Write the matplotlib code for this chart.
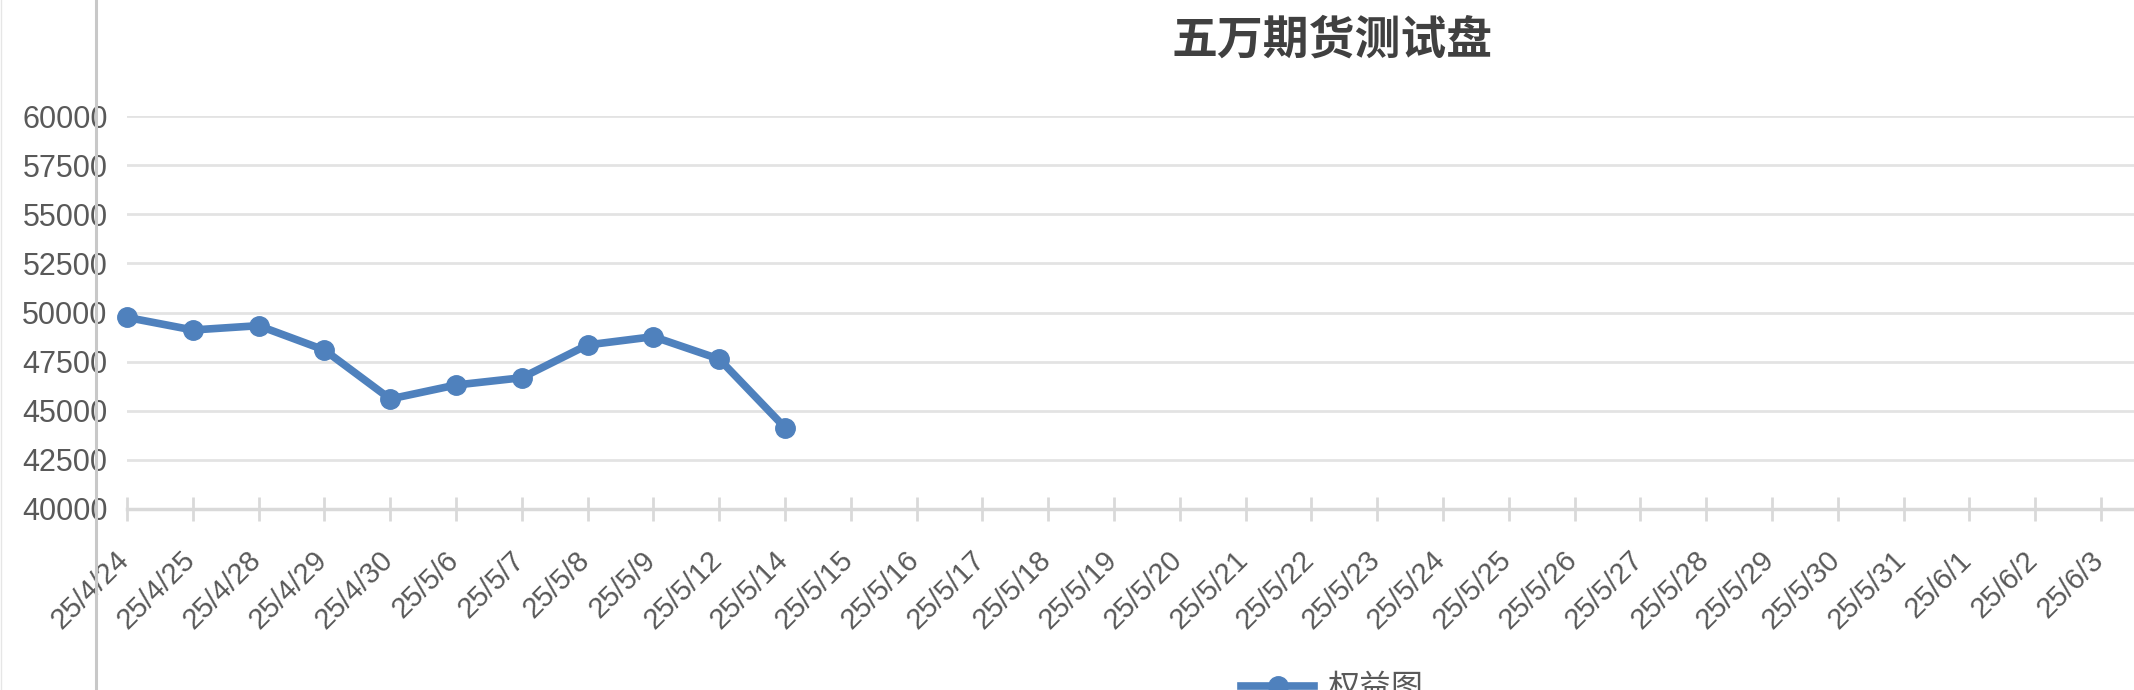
import matplotlib
matplotlib.use('Agg')
import matplotlib.pyplot as plt
import matplotlib.transforms as mtransforms
from matplotlib.lines import Line2D

plt.rcParams['font.family'] = ['Liberation Sans', 'Noto Sans CJK SC', 'DejaVu Sans']

title = '五万期货测试盘'
series_name = '权益图'
dates = ['25/4/24', '25/4/25', '25/4/28', '25/4/29', '25/4/30', '25/5/6', '25/5/7',
         '25/5/8', '25/5/9', '25/5/12', '25/5/14', '25/5/15', '25/5/16', '25/5/17',
         '25/5/18', '25/5/19', '25/5/20', '25/5/21', '25/5/22', '25/5/23', '25/5/24',
         '25/5/25', '25/5/26', '25/5/27', '25/5/28', '25/5/29', '25/5/30', '25/5/31',
         '25/6/1', '25/6/2', '25/6/3']
equity = [49750, 49110, 49330, 48090, 45600, 46310, 46680, 48350, 48770, 47630, 44140]
yticks = [40000, 42500, 45000, 47500, 50000, 52500, 55000, 57500, 60000]

blue = '#4f81bd'
grey_txt = '#595959'

fig = plt.figure(figsize=(21.34, 6.9), dpi=100)
ax = fig.add_axes([127 / 2134, 181 / 690, (2134 - 127) / 2134, 393 / 690])

x = list(range(len(equity)))
ax.plot(x, equity, color=blue, lw=5.5, marker='o', ms=14, solid_joinstyle='round',
        clip_on=False, zorder=5)

ax.set_xlim(0, 30.5)
ax.set_ylim(40000, 60000)
ax.set_yticks(yticks)
ax.set_yticklabels([str(v) for v in yticks])
ax.set_xticks(range(len(dates)))
ax.set_xticklabels(dates, rotation=45, ha='right', va='top')

ax.grid(True, axis='y', color='#e3e3e3', lw=2)
ax.set_axisbelow(True)
for s in ['top', 'right', 'left']:
    ax.spines[s].set_visible(False)
ax.spines['bottom'].set_color('#d9d9d9')
ax.spines['bottom'].set_linewidth(2.5)

ax.tick_params(axis='y', length=0, pad=14, labelsize=22, labelcolor=grey_txt)
ax.tick_params(axis='x', direction='inout', length=17, width=2, color='#d9d9d9',
               pad=18, labelsize=21, labelcolor=grey_txt)
offset = mtransforms.ScaledTranslation(8 / 100, 0, fig.dpi_scale_trans)
for lab in ax.get_xticklabels():
    lab.set_transform(lab.get_transform() + offset)

fig.text(1332 / 2134, 1 - 41 / 690, title, ha='center', va='center', fontsize=33,
         fontweight='bold', color='#404040', family=['Noto Sans CJK SC', 'DejaVu Sans'])

handle = Line2D([], [], color=blue, lw=5.5, marker='o', ms=14)
leg = fig.legend([handle], [series_name], loc='center', bbox_to_anchor=(1332 / 2134, 2 / 690),
                 frameon=False, fontsize=23, handlelength=2.3, handletextpad=0.4)
for t in leg.get_texts():
    t.set_color(grey_txt)
    t.set_family(['Noto Sans CJK SC', 'DejaVu Sans'])

# chart border lines on the left
fig.add_artist(Line2D([96 / 2134, 96 / 2134], [0, 1], color='#c8c8c8', lw=2.2, zorder=10))
fig.add_artist(Line2D([1 / 2134, 1 / 2134], [0, 1], color='#e6e6e6', lw=1, zorder=10))

fig.savefig('out.png', dpi=100)
